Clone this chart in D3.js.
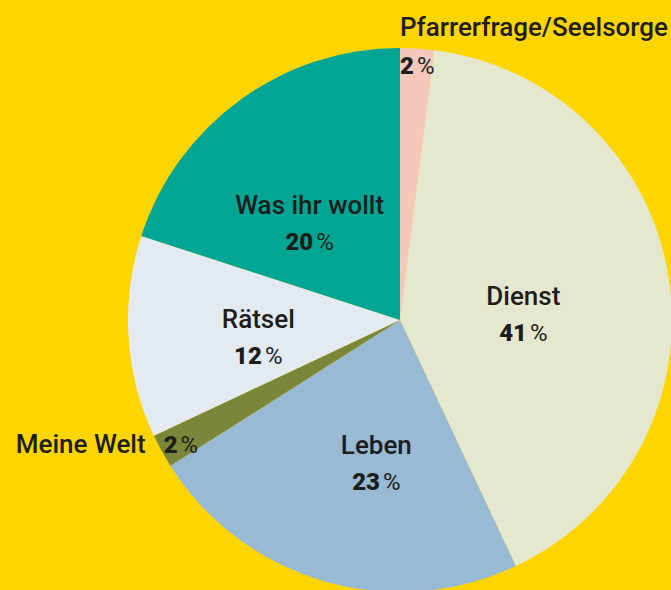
<!DOCTYPE html>
<html>
<head>
<meta charset="utf-8">
<script src="https://cdn.jsdelivr.net/npm/d3@7"></script>
<style>
  html, body { margin: 0; padding: 0; background: #ffd500; }
  svg { display: block; }
  text { font-family: Roboto, "Open Sans", sans-serif; fill: #1d1d1b; }
</style>
</head>
<body>
<div id="chart"></div>
<script>
// data
var categories = [ "Pfarrerfrage/Seelsorge", "Dienst", "Leben", "Meine Welt", "Rätsel", "Was ihr wollt" ];
var shares = [ 2, 41, 23, 2, 12, 20 ];
var colours = [ "#f6c7bb", "#e5e8cf", "#98bad5", "#7a863a", "#e4eaf2", "#00a594" ];

var width = 671,
  height = 590,
  cx = 400,
  cy = 320,
  radius = 272,
  nameSize = "26px",
  numSize = "24px";

// small nudges so labels sit where the original has them
var nudge = {
  "Dienst": [ -10, 23 ],
  "Leben": [ 14, 21 ],
  "Rätsel": [ -7, 17 ],
  "Was ihr wollt": [ -11, 20 ]
};

var data = categories.map( function( c, i ) {
  return { name: c, value: shares[ i ], colour: colours[ i ] };
} );

var svg = d3.select( "#chart" ).append( "svg" )
  .attr( "width", width )
  .attr( "height", height );

svg.append( "rect" )
  .attr( "width", width )
  .attr( "height", height )
  .style( "fill", "#ffd500" );

var g = svg.append( "g" )
  .attr( "transform", "translate(" + cx + "," + cy + ")" );

var pie = d3.pie()
  .sort( null )
  .value( d => d.value );

var arc = d3.arc()
  .innerRadius( 0 )
  .outerRadius( radius );

var labelArc = d3.arc()
  .innerRadius( 135 )
  .outerRadius( 135 );

var arcs = pie( data );

g.selectAll( "path.slice" )
  .data( arcs )
  .enter()
  .append( "path" )
    .attr( "class", "slice" )
    .attr( "d", arc )
    .style( "fill", d => d.data.colour );

function pct( sel, v ) {
  sel.append( "tspan" )
    .style( "font-weight", 900 )
    .text( v );
  sel.append( "tspan" )
    .attr( "dx", 3 )
    .style( "font-weight", 400 )
    .text( "%" );
}

function nameLabel( x, y, anchor, txt ) {
  g.append( "text" )
    .attr( "x", x )
    .attr( "y", y )
    .attr( "text-anchor", anchor )
    .style( "font-size", nameSize )
    .style( "font-weight", 500 )
    .text( txt );
}

function numLabel( x, y, anchor, v ) {
  g.append( "text" )
    .attr( "x", x )
    .attr( "y", y )
    .attr( "text-anchor", anchor )
    .style( "font-size", numSize )
    .call( pct, v );
}

arcs.forEach( function( d ) {
  var name = d.data.name;
  if ( nudge[ name ] ) {
    var c = labelArc.centroid( d );
    var x = c[ 0 ] + nudge[ name ][ 0 ],
      y = c[ 1 ] + nudge[ name ][ 1 ];
    nameLabel( x, y - 17, "middle", name );
    numLabel( x, y + 19, "middle", d.data.value );
  }
} );

// Pfarrerfrage: name above the pie, value just inside the slice
var topArc = arcs[ 0 ];
nameLabel( 0, -radius - 12, "start", topArc.data.name );
numLabel( 0, -radius + 26, "start", topArc.data.value );

// Meine Welt: name left of the pie, value on the edge of the slice
var mw = arcs[ 3 ];
var mid = ( mw.startAngle + mw.endAngle ) / 2;
var ex = radius * Math.sin( mid ),
  ey = -radius * Math.cos( mid );
nameLabel( ex - 16, ey + 2, "end", mw.data.name );
numLabel( ex + 2, ey + 2, "start", mw.data.value );
</script>
</body>
</html>
